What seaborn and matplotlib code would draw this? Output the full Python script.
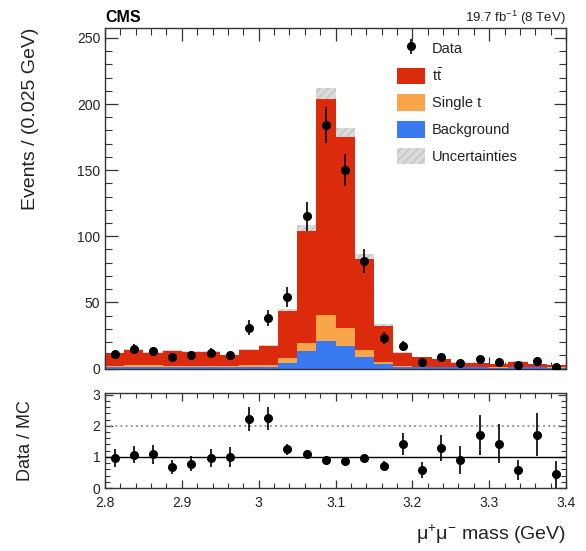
import numpy as np
import pandas as pd
import matplotlib
matplotlib.use("Agg")
import matplotlib.pyplot as plt
from matplotlib.patches import Patch
from matplotlib.ticker import MultipleLocator, AutoMinorLocator, FormatStrFormatter
import seaborn as sns

# Binning of the dimuon mass (GeV)
mass_range = (2.8, 3.4)
n_bins = 24
bin_edges = np.linspace(mass_range[0], mass_range[1], n_bins + 1)

# Observed events per bin
data_counts = [11, 15, 13, 9, 10, 12, 10, 31, 38, 54, 115, 184,
               150, 81, 23, 17, 5, 9, 4, 7, 5, 3, 6, 1]

# Simulated contributions per bin
ttbar = [9.3, 11.2, 9.6, 11.6, 10.6, 10.5, 8.4, 11.6, 14.0, 35.5, 84.7, 163.5,
         144.3, 69.0, 27.0, 10.2, 7.2, 5.5, 3.3, 2.7, 2.4, 3.7, 2.3, 1.5]
single_top = [1.0, 1.8, 1.2, 0.8, 1.4, 0.6, 0.8, 1.6, 1.5, 3.8, 6.0, 19.7,
              13.7, 5.3, 1.6, 0.6, 0.5, 0.5, 0.4, 0.4, 0.4, 0.5, 0.4, 0.3]
background = [1.2, 1.0, 1.2, 1.0, 0.8, 1.4, 0.8, 0.8, 1.5, 4.2, 13.3, 20.8,
              17.0, 8.7, 3.4, 1.2, 0.8, 1.0, 0.8, 1.0, 0.7, 1.0, 0.8, 0.5]

# Relative systematic uncertainty on the total prediction
rel_unc = 0.04

process_names = [r"$\mathrm{t\bar{t}}$", "Single t", "Background"]
process_colors = {process_names[0]: "#dc2a0c",
                  process_names[1]: "#f9a54a",
                  process_names[2]: "#3a7af0"}
unc_face = "#dadada"
unc_hatch = "#c2c2c2"

centers = 0.5 * (bin_edges[:-1] + bin_edges[1:])
frames = []
for name, vals in zip(process_names, [ttbar, single_top, background]):
    frames.append(pd.DataFrame({"mass": centers, "events": vals, "process": name}))
mc_df = pd.concat(frames, ignore_index=True)

data_arr = np.array(data_counts, dtype=float)
mc_total = np.array(ttbar) + np.array(single_top) + np.array(background)
ratio = data_arr / mc_total
ratio_err = np.sqrt(data_arr) / mc_total

sns.set_theme(style="ticks")
plt.rcParams["font.family"] = ["Liberation Sans", "DejaVu Sans"]
plt.rcParams["mathtext.fontset"] = "custom"
plt.rcParams["mathtext.rm"] = "Liberation Sans"
plt.rcParams["mathtext.it"] = "Liberation Sans:italic"
text_col = "#222222"

fig = plt.figure(figsize=(5.86, 5.51), dpi=100)
ax = fig.add_axes([0.1792, 0.3312, 0.7867, 0.618])
rax = fig.add_axes([0.1792, 0.1143, 0.7867, 0.1724])

# Uncertainty band on the total prediction (behind the stack)
up = np.append(mc_total * (1 + rel_unc), mc_total[-1] * (1 + rel_unc))
dn = np.append(mc_total * (1 - rel_unc), mc_total[-1] * (1 - rel_unc))
ax.fill_between(bin_edges, dn, up, step="post", facecolor=unc_face,
                edgecolor=unc_hatch, hatch="////", linewidth=0, zorder=0.5)

# Stacked simulation
sns.histplot(data=mc_df, x="mass", weights="events", hue="process",
             hue_order=process_names, palette=process_colors,
             bins=n_bins, binrange=mass_range, multiple="stack", element="step",
             linewidth=0, alpha=1, legend=False, ax=ax)

# Data points
ax.errorbar(centers, data_arr, yerr=np.sqrt(data_arr), fmt="o", color="black",
            markersize=5.5, elinewidth=1.2, capsize=0, zorder=5)

ax.set_xlim(*mass_range)
ax.set_ylim(0, 257.5)
ax.set_xlabel("")
ax.set_ylabel("Events / (0.025 GeV)", loc="top", fontsize=14, color=text_col, labelpad=27)
ax.yaxis.set_major_locator(MultipleLocator(50))
ax.yaxis.set_minor_locator(AutoMinorLocator(5))
ax.xaxis.set_major_locator(MultipleLocator(0.1))
ax.xaxis.set_minor_locator(AutoMinorLocator(5))
ax.tick_params(axis="x", labelbottom=False)

# Legend
data_handle = ax.errorbar([], [], yerr=[], fmt="o", color="black", markersize=5.5,
                          elinewidth=1.2)
handles = [data_handle] + [Patch(facecolor=process_colors[n], edgecolor="none")
                           for n in process_names] + \
          [Patch(facecolor=unc_face, edgecolor=unc_hatch, hatch="////", linewidth=0)]
labels = ["Data"] + process_names + ["Uncertainties"]
leg = ax.legend(handles, labels, loc="upper left", bbox_to_anchor=(0.612, 0.995),
                frameon=False, fontsize=10.5, handlelength=1.9, handleheight=1.35,
                labelspacing=0.72, handletextpad=0.45, borderaxespad=0.3)
for t in leg.get_texts():
    t.set_color(text_col)

fig.text(0.1792, 0.968, "CMS", fontsize=11.5, fontweight="bold", ha="left",
         va="center", color="black")
fig.text(0.966, 0.968, r"19.7 fb$^{-1}$ (8 TeV)", fontsize=9.5, ha="right",
         va="center", color=text_col)

# Ratio panel
rax.axhline(1.0, color="black", linewidth=1.0, zorder=1)
rax.axhline(2.0, color="#999999", linewidth=1.4, linestyle=":", zorder=1)
rax.errorbar(centers, ratio, yerr=ratio_err, fmt="o", color="black",
             markersize=5.5, elinewidth=1.2, capsize=0, zorder=5)
rax.set_xlim(*mass_range)
rax.set_ylim(0, 3.05)
rax.yaxis.set_major_locator(MultipleLocator(1))
rax.yaxis.set_minor_locator(AutoMinorLocator(5))
rax.xaxis.set_major_locator(MultipleLocator(0.1))
rax.xaxis.set_minor_locator(AutoMinorLocator(5))
rax.xaxis.set_major_formatter(FormatStrFormatter("%g"))
rax.set_ylabel("Data / MC", fontsize=13, color=text_col, labelpad=42)
rax.set_xlabel(r"$\mathrm{\mu^{+}\mu^{-}}$ mass (GeV)", loc="right", fontsize=14,
               color=text_col, labelpad=9)

for a in (ax, rax):
    a.tick_params(which="both", direction="in", top=True, right=True,
                  colors="#333333", labelcolor=text_col, labelsize=10)
    a.tick_params(which="major", length=9, width=0.9)
    a.tick_params(which="minor", length=5, width=0.8)
    for s in a.spines.values():
        s.set_linewidth(1.0)
        s.set_color("#333333")
rax.tick_params(which="major", length=6)
rax.tick_params(which="minor", length=3.5)
rax.tick_params(axis="x", pad=6)

fig.savefig("out.png", dpi=100)
